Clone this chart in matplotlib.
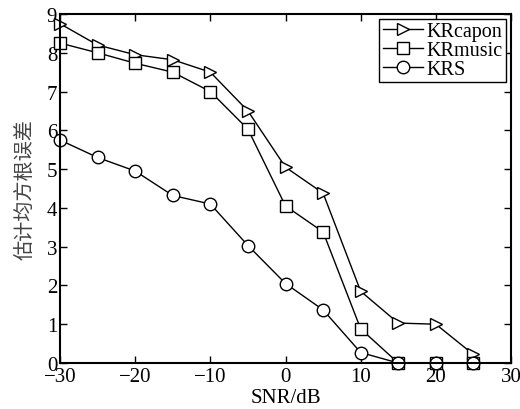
import matplotlib
matplotlib.use("Agg")
import matplotlib.pyplot as plt

snr = [-30, -25, -20, -15, -10, -5, 0, 5, 10, 15, 20, 25]
krcapon = [8.75, 8.2, 7.95, 7.82, 7.5, 6.5, 5.05, 4.38, 1.85, 1.03, 1.0, 0.22]
krmusic = [8.25, 8.0, 7.73, 7.5, 7.0, 6.03, 4.05, 3.38, 0.88, 0.0, 0.0, 0.0]
krs = [5.75, 5.3, 4.95, 4.32, 4.1, 3.03, 2.05, 1.37, 0.27, 0.0, 0.0, 0.0]
xticks = [-30, -20, -10, 0, 10, 20, 30]
yticks = list(range(0, 10))

plt.rcParams['font.family'] = ['Liberation Serif', 'Noto Sans CJK SC']

fig = plt.figure(figsize=(5.2, 4.1), dpi=100)
ax = fig.add_axes([0.1154, 0.1122, 0.8673, 0.8512])

kw = dict(color='black', lw=1.0, markerfacecolor='white', markeredgecolor='black', markersize=9, markeredgewidth=1.0, clip_on=False)
ax.plot(snr, krcapon, marker='>', label='KRcapon', **kw)
ax.plot(snr, krmusic, marker='s', label='KRmusic', **kw)
ax.plot(snr, krs, marker='o', label='KRS', **kw)

ax.set_xlim(-30, 30)
ax.set_ylim(0, 9)
ax.set_xticks(xticks)
ax.set_xticklabels([str(t).replace('-', '\u2212') for t in xticks])
ax.set_yticks(yticks)
ax.tick_params(direction='in', top=True, right=True, labelsize=15, length=5, width=1.0)
ax.tick_params(axis='y', pad=2)
ax.tick_params(axis='x', pad=3)
for s in ax.spines.values():
    s.set_linewidth(1.5)

ax.set_xlabel('SNR/dB', fontsize=15, labelpad=1)
ax.set_ylabel('估计均方根误差', fontsize=14.5, family=['Noto Sans CJK SC'], labelpad=8, color='#444444')

leg = ax.legend(loc='upper right', fontsize=14.5, frameon=True, fancybox=False, edgecolor='black',
                handlelength=2.0, handletextpad=0.2, borderpad=0.15, labelspacing=0.0,
                borderaxespad=0.25, framealpha=1)
leg.get_frame().set_linewidth(1.0)

fig.savefig('out.png', dpi=100)
